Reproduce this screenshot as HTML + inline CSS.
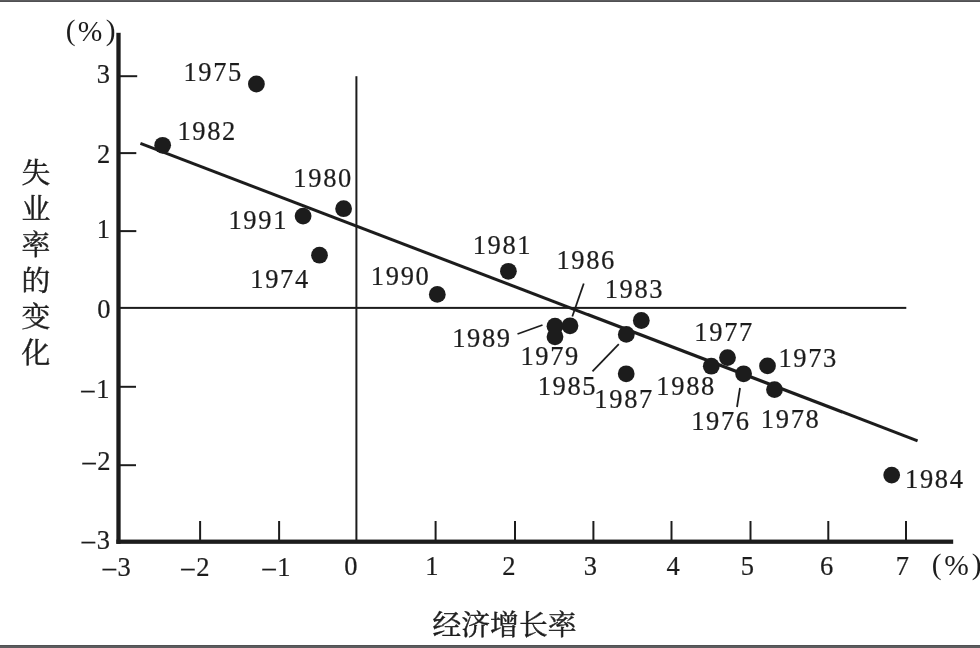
<!DOCTYPE html>
<html><head><meta charset="utf-8"><title>chart</title>
<style>
html,body{margin:0;padding:0;background:#fff;}
body{width:980px;height:648px;overflow:hidden;font-family:"Liberation Serif",serif;}
svg{display:block;will-change:transform;transform:translateZ(0);}
</style></head><body>
<svg width="980" height="648" viewBox="0 0 980 648" font-family="'Liberation Serif', serif" fill="#1f1f1f">
<rect x="0" y="0" width="980" height="1" fill="#5c5c5e"/>
<rect x="0" y="1" width="980" height="1" fill="#505052"/>
<rect x="0" y="645" width="980" height="1" fill="#505052"/>
<rect x="0" y="646" width="980" height="2" fill="#5c5c5e"/>
<defs><filter id="soft" x="0" y="0" width="980" height="648" filterUnits="userSpaceOnUse"><feGaussianBlur stdDeviation="0.38"/></filter></defs>
<g filter="url(#soft)">
<style>text{stroke:#1f1f1f;stroke-width:0.25px;}text.pc{stroke-width:0;}text.cj{stroke-width:0.45px;}</style>
<rect x="116.35" y="32.8" width="4.3" height="511.05" fill="#1f1f1f"/>
<rect x="116.35" y="539.55" width="836.85" height="4.3" fill="#1f1f1f"/>
<rect x="199.1" y="521" width="2" height="20" fill="#1f1f1f"/>
<rect x="278.1" y="521" width="2" height="20" fill="#1f1f1f"/>
<rect x="434.6" y="521" width="2" height="20" fill="#1f1f1f"/>
<rect x="514" y="521" width="2" height="20" fill="#1f1f1f"/>
<rect x="592.4" y="521" width="2" height="20" fill="#1f1f1f"/>
<rect x="670.5" y="521" width="2" height="20" fill="#1f1f1f"/>
<rect x="749.5" y="521" width="2" height="20" fill="#1f1f1f"/>
<rect x="827.3" y="521" width="2" height="20" fill="#1f1f1f"/>
<rect x="905" y="521" width="2" height="20" fill="#1f1f1f"/>
<rect x="118.5" y="75.2" width="18.7" height="2" fill="#1f1f1f"/>
<rect x="118.5" y="152.1" width="17.8" height="2" fill="#1f1f1f"/>
<rect x="118.5" y="230.1" width="17.8" height="2" fill="#1f1f1f"/>
<rect x="118.5" y="385.8" width="17.5" height="2" fill="#1f1f1f"/>
<rect x="118.5" y="464.2" width="17.5" height="2" fill="#1f1f1f"/>
<rect x="355.4" y="76.2" width="2" height="465.5" fill="#1f1f1f"/>
<rect x="118.5" y="306.9" width="787.8" height="2" fill="#1f1f1f"/>
<line x1="140.4" y1="143.3" x2="917.6" y2="440.8" stroke="#1f1f1f" stroke-width="3.05"/>
<circle cx="256.4" cy="84" r="8.4" fill="#1f1f1f"/>
<circle cx="162.65" cy="145.3" r="8.4" fill="#1f1f1f"/>
<circle cx="343.6" cy="208.7" r="8.4" fill="#1f1f1f"/>
<circle cx="303.1" cy="216.1" r="8.4" fill="#1f1f1f"/>
<circle cx="319.5" cy="255.2" r="8.4" fill="#1f1f1f"/>
<circle cx="437.3" cy="294.4" r="8.4" fill="#1f1f1f"/>
<circle cx="508.4" cy="271.3" r="8.4" fill="#1f1f1f"/>
<circle cx="570" cy="325.8" r="8.4" fill="#1f1f1f"/>
<circle cx="555" cy="326.2" r="8.4" fill="#1f1f1f"/>
<circle cx="555" cy="336.8" r="8.4" fill="#1f1f1f"/>
<circle cx="641.3" cy="320.5" r="8.4" fill="#1f1f1f"/>
<circle cx="626.3" cy="334.4" r="8.4" fill="#1f1f1f"/>
<circle cx="626.2" cy="373.8" r="8.4" fill="#1f1f1f"/>
<circle cx="727.5" cy="357.6" r="8.4" fill="#1f1f1f"/>
<circle cx="711.3" cy="366.2" r="8.4" fill="#1f1f1f"/>
<circle cx="743.6" cy="373.8" r="8.4" fill="#1f1f1f"/>
<circle cx="767.5" cy="365.9" r="8.4" fill="#1f1f1f"/>
<circle cx="774.5" cy="389.6" r="8.4" fill="#1f1f1f"/>
<circle cx="891.7" cy="475.1" r="8.4" fill="#1f1f1f"/>
<line x1="583.75" y1="283.5" x2="572.3" y2="316.5" stroke="#1f1f1f" stroke-width="1.8"/>
<line x1="592.5" y1="371.3" x2="618.8" y2="344.2" stroke="#1f1f1f" stroke-width="1.8"/>
<line x1="740" y1="388" x2="737" y2="407" stroke="#1f1f1f" stroke-width="1.8"/>
<line x1="517.5" y1="334" x2="542.5" y2="325" stroke="#1f1f1f" stroke-width="1.8"/>
<text transform="translate(183.38 81.4) scale(0.94 1)" font-size="28.2" letter-spacing="1.75">1975</text>
<text transform="translate(177.41 140.2) scale(0.94 1)" font-size="28.2" letter-spacing="1.75">1982</text>
<text transform="translate(293.36 187.1) scale(0.94 1)" font-size="28.2" letter-spacing="1.75">1980</text>
<text transform="translate(228.44 228.8) scale(0.94 1)" font-size="28.2" letter-spacing="1.75">1991</text>
<text transform="translate(250.26 287.7) scale(0.94 1)" font-size="28.2" letter-spacing="1.75">1974</text>
<text transform="translate(370.86 285.3) scale(0.94 1)" font-size="28.2" letter-spacing="1.75">1990</text>
<text transform="translate(472.64 253.55) scale(0.94 1)" font-size="28.2" letter-spacing="1.75">1981</text>
<text transform="translate(556.39 268.55) scale(0.94 1)" font-size="28.2" letter-spacing="1.75">1986</text>
<text transform="translate(604.63 297.8) scale(0.94 1)" font-size="28.2" letter-spacing="1.75">1983</text>
<text transform="translate(452.18 347.3) scale(0.94 1)" font-size="28.2" letter-spacing="1.75">1989</text>
<text transform="translate(520.43 364.8) scale(0.94 1)" font-size="28.2" letter-spacing="1.75">1979</text>
<text transform="translate(537.63 395) scale(0.94 1)" font-size="28.2" letter-spacing="1.75">1985</text>
<text transform="translate(594.36 408.1) scale(0.94 1)" font-size="28.2" letter-spacing="1.75">1987</text>
<text transform="translate(656.36 394.8) scale(0.94 1)" font-size="28.2" letter-spacing="1.75">1988</text>
<text transform="translate(691.14 430.2) scale(0.94 1)" font-size="28.2" letter-spacing="1.75">1976</text>
<text transform="translate(694.36 340.7) scale(0.94 1)" font-size="28.2" letter-spacing="1.75">1977</text>
<text transform="translate(778.38 366.8) scale(0.94 1)" font-size="28.2" letter-spacing="1.75">1973</text>
<text transform="translate(760.86 427.9) scale(0.94 1)" font-size="28.2" letter-spacing="1.75">1978</text>
<text transform="translate(905.06 487.9) scale(0.94 1)" font-size="28.2" letter-spacing="1.75">1984</text>
<text transform="translate(102.71 576) scale(0.94 1)" font-size="28.2" letter-spacing="1.75">–3</text>
<text transform="translate(181.37 576) scale(0.94 1)" font-size="28.2" letter-spacing="1.75">–2</text>
<text transform="translate(262.43 576) scale(0.94 1)" font-size="28.2" letter-spacing="1.75">–1</text>
<text transform="translate(344.22 575.3) scale(0.94 1)" font-size="28.2">0</text>
<text transform="translate(425.2 575.3) scale(0.94 1)" font-size="28.2">1</text>
<text transform="translate(502.37 575.3) scale(0.94 1)" font-size="28.2">2</text>
<text transform="translate(583.81 575.3) scale(0.94 1)" font-size="28.2">3</text>
<text transform="translate(666.57 575.3) scale(0.94 1)" font-size="28.2">4</text>
<text transform="translate(740.67 575.3) scale(0.94 1)" font-size="28.2">5</text>
<text transform="translate(820.1 575.3) scale(0.94 1)" font-size="28.2">6</text>
<text transform="translate(895.73 575.3) scale(0.94 1)" font-size="28.2">7</text>
<text transform="translate(96.71 82.8) scale(0.94 1)" font-size="28.2">3</text>
<text transform="translate(96.97 162.6) scale(0.94 1)" font-size="28.2">2</text>
<text transform="translate(96.78 237.9) scale(0.94 1)" font-size="28.2">1</text>
<text transform="translate(97.3 317.5) scale(0.94 1)" font-size="28.2">0</text>
<text transform="translate(81.36 397.9) scale(0.94 1)" font-size="28.2" letter-spacing="1.75">–1</text>
<text transform="translate(82.44 470.1) scale(0.94 1)" font-size="28.2" letter-spacing="1.75">–2</text>
<text transform="translate(81.73 548.8) scale(0.94 1)" font-size="28.2" letter-spacing="1.75">–3</text>
<text x="65.7" y="40" font-size="29.5" class="pc">(</text>
<text x="105.7" y="40" font-size="29.5" class="pc">)</text>
<text transform="translate(77.81 41) scale(1 1)" font-size="29.5" class="pc">%</text>
<text x="931.8" y="574" font-size="29.5" class="pc">(</text>
<text x="971.7" y="574" font-size="29.5" class="pc">)</text>
<text transform="translate(944.31 575) scale(1 1)" font-size="29.5" class="pc">%</text>
<g aria-label="失业率的变化" font-family="'Liberation Serif', 'Noto Serif CJK SC', serif" font-size="28.8">
<text class="cj" x="21.6" y="183.44">失</text>
<text class="cj" x="21.6" y="219.44">业</text>
<text class="cj" x="21.6" y="255.44">率</text>
<text class="cj" x="21.6" y="291.44">的</text>
<text class="cj" x="21.6" y="327.44">变</text>
<text class="cj" x="21.6" y="363.44">化</text>
</g>
<g aria-label="经济增长率" font-family="'Liberation Serif', 'Noto Serif CJK SC', serif" font-size="28.8">
<text class="cj" x="432.5 461.3 490.1 518.9 547.7" y="635.04">经济增长率</text>
</g>
</g>
</svg>
</body></html>
